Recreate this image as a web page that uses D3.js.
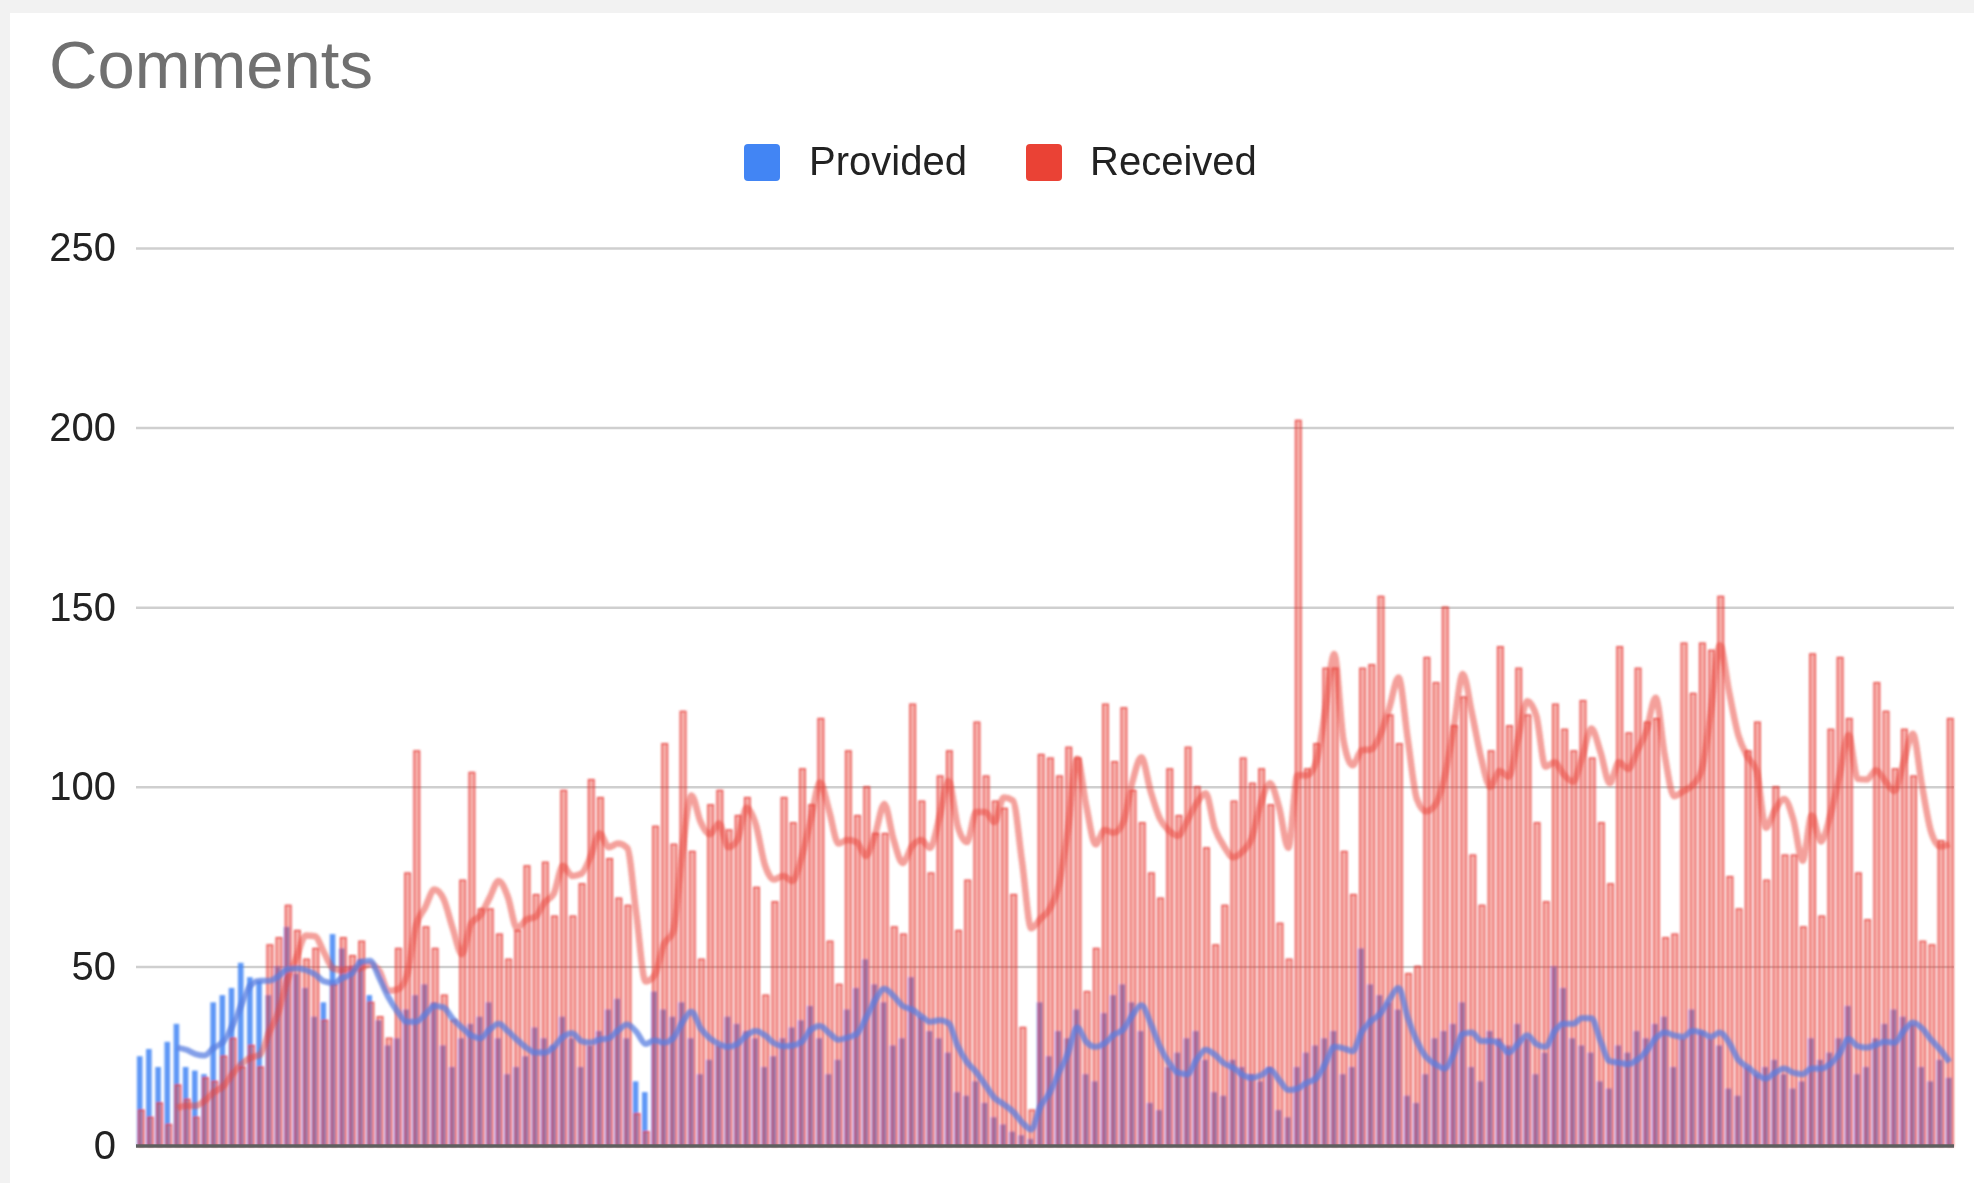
<!DOCTYPE html>
<html>
<head>
<meta charset="utf-8">
<script src="https://cdn.jsdelivr.net/npm/d3@7"></script>
<style>
html, body { margin: 0; padding: 0; background: #f2f2f2; }
svg { display: block; }
</style>
</head>
<body>
<svg id="chart" width="1974" height="1183"></svg>
<script>
// ---------------- data ----------------
const chartTitle = "Comments";
const seriesNames = ["Provided", "Received"];
const seriesColors = ["#4285F4", "#EA4335"];
const yTicks = [0, 50, 100, 150, 200, 250];
const trendPeriod = 5; // moving-average trendline period

const provided = [
  25, 27, 22, 29, 34, 22, 21, 20, 40, 42, 44, 51, 47, 46, 42, 50, 61, 48, 44, 36,
  40, 59, 55, 50, 52, 42, 35, 28, 30, 38, 42, 45, 40, 28, 22, 30, 34, 36, 40, 30,
  20, 22, 25, 33, 30, 28, 36, 30, 22, 28, 32, 38, 41, 30, 18, 15, 43, 38, 36, 40,
  30, 20, 24, 28, 36, 34, 32, 30, 22, 25, 30, 33, 35, 39, 30, 20, 24, 38, 44, 52,
  45, 40, 28, 30, 47, 36, 32, 30, 26, 15, 14, 18, 12, 8, 6, 4, 3, 2, 40, 25,
  32, 30, 38, 20, 18, 37, 42, 45, 40, 32, 12, 10, 22, 26, 30, 32, 24, 15, 14, 24,
  22, 20, 18, 22, 10, 8, 22, 26, 28, 30, 32, 20, 22, 55, 45, 42, 40, 38, 14, 12,
  20, 30, 32, 34, 40, 22, 18, 32, 30, 28, 34, 30, 20, 26, 50, 44, 30, 28, 26, 18,
  16, 28, 26, 32, 30, 34, 36, 22, 30, 38, 32, 30, 28, 16, 14, 22, 20, 22, 24, 20,
  16, 18, 30, 24, 26, 30, 39, 20, 22, 30, 34, 38, 36, 34, 22, 18, 24, 19
];

const received = [
  10, 8, 12, 6, 17, 13, 8, 19, 18, 25, 30, 22, 28, 22, 56, 58, 67, 60, 52, 55,
  35, 45, 58, 53, 57, 40, 36, 30, 55, 76, 110, 61, 55, 42, 35, 74, 104, 66, 66, 59,
  52, 60, 78, 70, 79, 64, 99, 64, 73, 102, 97, 80, 69, 67, 9, 4, 89, 112, 84, 121,
  82, 52, 95, 99, 88, 92, 97, 72, 42, 68, 97, 90, 105, 95, 119, 57, 45, 110, 92, 100,
  87, 87, 61, 59, 123, 96, 76, 103, 110, 60, 74, 118, 103, 96, 94, 70, 33, 10, 109, 108,
  103, 111, 108, 43, 55, 123, 107, 122, 99, 90, 76, 69, 105, 92, 111, 100, 83, 56, 67, 96,
  108, 101, 105, 95, 62, 52, 202, 105, 112, 133, 133, 82, 70, 133, 134, 153, 120, 112, 48, 50,
  136, 129, 150, 117, 125, 81, 67, 110, 139, 117, 133, 120, 90, 68, 123, 116, 110, 124, 108, 90,
  73, 139, 115, 133, 118, 119, 58, 59, 140, 126, 140, 138, 153, 75, 66, 110, 118, 74, 100, 81,
  81, 61, 137, 64, 116, 136, 119, 76, 63, 129, 121, 105, 116, 103, 57, 56, 85, 119
];

const days = d3.range(1, received.length + 1);
const seriesValues = [provided, received];

// ---------------- layout ----------------
const W = 1974, H = 1183;
const plot = { left: 136, right: 1954, top: 248, bottom: 1146 };
const FONT = "'Liberation Sans', Arial, Helvetica, sans-serif";

const svg = d3.select("#chart");

svg.append("rect").attr("x", 0).attr("y", 0).attr("width", W).attr("height", H).attr("fill", "#f2f2f2");
svg.append("rect").attr("x", 10).attr("y", 13).attr("width", W - 10).attr("height", H - 13).attr("fill", "#ffffff");

const defs = svg.append("defs");
defs.append("filter").attr("id", "soft").attr("x", "-2%").attr("y", "-2%").attr("width", "104%").attr("height", "104%")
  .append("feGaussianBlur").attr("stdDeviation", 0.8);
defs.append("filter").attr("id", "softText").attr("x", "-5%").attr("y", "-20%").attr("width", "110%").attr("height", "140%")
  .append("feGaussianBlur").attr("stdDeviation", 0.6);

// title
svg.append("text")
  .attr("x", 49).attr("y", 88)
  .attr("font-family", FONT)
  .attr("font-size", 67)
  .attr("fill", "#6f6f6f")
  .attr("filter", "url(#softText)")
  .text(chartTitle);

// legend
const legendItems = [
  { name: seriesNames[0], color: seriesColors[0], x: 744, tx: 809 },
  { name: seriesNames[1], color: seriesColors[1], x: 1026, tx: 1090 }
];
const legend = svg.append("g").attr("filter", "url(#softText)");
legendItems.forEach(it => {
  legend.append("rect").attr("x", it.x).attr("y", 144).attr("width", 36).attr("height", 37)
    .attr("rx", 4).attr("fill", it.color);
  legend.append("text").attr("x", it.tx).attr("y", 175)
    .attr("font-family", FONT)
    .attr("font-size", 40).attr("fill", "#222")
    .text(it.name);
});

// scales
const y = d3.scaleLinear().domain([0, 250]).range([plot.bottom, plot.top]);
const x = d3.scaleBand().domain(days).range([plot.left, plot.right]).paddingInner(0.22).paddingOuter(0.1);
const barW = x.bandwidth() * 0.78;
const xs = d3.scaleOrdinal().domain([0, 1]).range([0, x.bandwidth() - barW]);

// gridlines + y labels via axis
const yAxis = d3.axisLeft(y).tickValues(yTicks).tickSize(-(plot.right - plot.left)).tickPadding(20);
const gAxis = svg.append("g").attr("transform", `translate(${plot.left},0)`).call(yAxis);
gAxis.select(".domain").remove();
gAxis.selectAll(".tick line").attr("stroke", "#cfcfcf").attr("stroke-width", 2.5);
gAxis.selectAll(".tick text")
  .attr("font-family", FONT)
  .attr("font-size", 40).attr("fill", "#222")
  .attr("filter", "url(#softText)");
gAxis.selectAll(".tick").filter(d => d === 0).select("line").attr("stroke", "transparent");

// bars
const barStyle = [
  { fill: "#4285F4", fillOpacity: 0.85, stroke: "#4285F4", strokeOpacity: 0.0 },
  { fill: "#EA4335", fillOpacity: 0.42, stroke: "#E53935", strokeOpacity: 0.9 }
];
const gBars = svg.append("g").attr("filter", "url(#soft)");
seriesValues.forEach((vals, s) => {
  gBars.append("g").selectAll("rect")
    .data(vals)
    .join("rect")
    .attr("x", (d, i) => x(days[i]) + xs(s))
    .attr("y", d => y(d))
    .attr("width", barW)
    .attr("height", d => y(0) - y(d))
    .attr("fill", barStyle[s].fill)
    .attr("fill-opacity", barStyle[s].fillOpacity)
    .attr("stroke", barStyle[s].stroke)
    .attr("stroke-opacity", barStyle[s].strokeOpacity)
    .attr("stroke-width", 1.3);
});

// moving average trendlines
function movingAverage(vals, p) {
  const out = [];
  for (let i = p - 1; i < vals.length; i++) {
    let sum = 0;
    for (let k = i - p + 1; k <= i; k++) sum += vals[k];
    out.push({ i, v: sum / p });
  }
  return out;
}
const line = d3.line()
  .x(d => x(days[d.i]) + x.bandwidth() / 2)
  .y(d => y(d.v))
  .curve(d3.curveMonotoneX);

const gTrend = svg.append("g").attr("filter", "url(#soft)");
gTrend.append("path")
  .attr("d", line(movingAverage(received, trendPeriod)))
  .attr("fill", "none").attr("stroke", "#EA4335").attr("stroke-opacity", 0.5)
  .attr("stroke-width", 6.5).attr("stroke-linejoin", "round");
gTrend.append("path")
  .attr("d", line(movingAverage(provided, trendPeriod)))
  .attr("fill", "none").attr("stroke", "#5a7fe0").attr("stroke-opacity", 0.75)
  .attr("stroke-width", 6).attr("stroke-linejoin", "round");

// baseline
svg.append("line")
  .attr("x1", plot.left).attr("x2", plot.right)
  .attr("y1", y(0)).attr("y2", y(0))
  .attr("stroke", "#5f5f5f").attr("stroke-width", 3.5);
</script>
</body>
</html>
